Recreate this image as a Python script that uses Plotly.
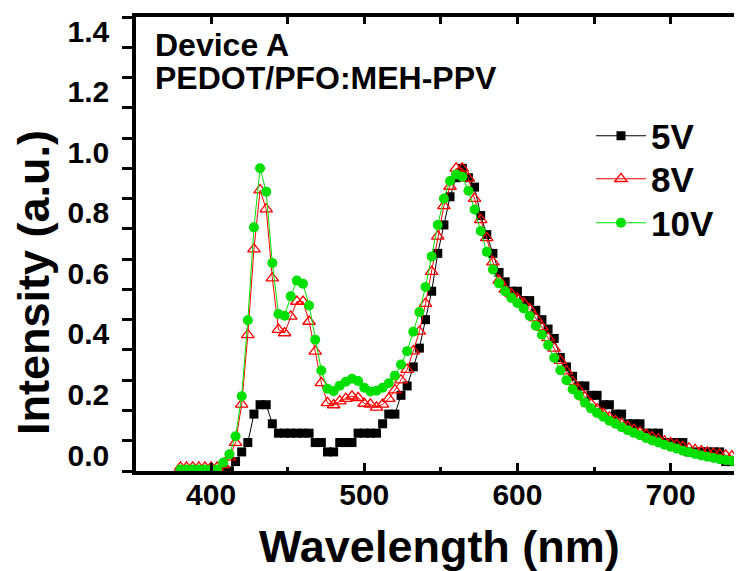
import plotly.graph_objects as go

wavelength = [380, 384, 388, 392, 396, 400, 404, 408, 412, 416,
              420, 424, 428, 432, 436, 440, 444, 448, 452, 456,
              460, 464, 468, 472, 476, 480, 484, 488, 492, 496,
              500, 504, 508, 512, 516, 520, 524, 528, 532, 536,
              540, 544, 548, 552, 556, 560, 564, 568, 572, 576,
              580, 584, 588, 592, 596, 600, 604, 608, 612, 616,
              620, 624, 628, 632, 636, 640, 644, 648, 652, 656,
              660, 664, 668, 672, 676, 680, 684, 688, 692, 696,
              700, 704, 708, 712, 716, 720, 724, 728, 732, 736,
              740, 744]

v5 = [0, 0, 0, 0, 0, 0, 0, 0, 0, 0.031,
      0.063, 0.094, 0.188, 0.219, 0.219, 0.156, 0.125, 0.125, 0.125, 0.125,
      0.125, 0.125, 0.094, 0.094, 0.063, 0.063, 0.094, 0.094, 0.094, 0.125,
      0.125, 0.125, 0.125, 0.156, 0.188, 0.188, 0.25, 0.281, 0.344, 0.406,
      0.5, 0.594, 0.719, 0.813, 0.906, 0.969, 1.0, 0.969, 0.938, 0.844,
      0.781, 0.719, 0.656, 0.625, 0.594, 0.594, 0.563, 0.563, 0.531, 0.5,
      0.469, 0.438, 0.375, 0.344, 0.313, 0.281, 0.281, 0.25, 0.25, 0.219,
      0.219, 0.188, 0.188, 0.156, 0.156, 0.156, 0.125, 0.125, 0.125, 0.094,
      0.094, 0.094, 0.094, 0.063, 0.063, 0.063, 0.063, 0.063, 0.063, 0.031,
      0.031, 0.031]

v8 = [0.012, 0.012, 0.012, 0.012, 0.012, 0.012, 0.012, 0.02, 0.045, 0.094,
      0.22, 0.45, 0.733, 0.928, 0.865, 0.637, 0.467, 0.456, 0.511, 0.56,
      0.56, 0.494, 0.395, 0.291, 0.225, 0.218, 0.231, 0.239, 0.247, 0.242,
      0.223, 0.22, 0.21, 0.22, 0.239, 0.267, 0.30, 0.335, 0.396, 0.461,
      0.553, 0.659, 0.775, 0.876, 0.94, 1.0, 1.0, 0.967, 0.90, 0.83,
      0.77, 0.69, 0.63, 0.60, 0.585, 0.57, 0.555, 0.535, 0.505, 0.475,
      0.44, 0.405, 0.365, 0.33, 0.295, 0.268, 0.244, 0.222, 0.205, 0.19,
      0.177, 0.166, 0.156, 0.146, 0.137, 0.128, 0.12, 0.112, 0.105, 0.098,
      0.092, 0.086, 0.08, 0.075, 0.07, 0.066, 0.062, 0.058, 0.055, 0.052,
      0.049, 0.047]

v10 = [0.005, 0.005, 0.005, 0.005, 0.005, 0.005, 0.005, 0.028, 0.055, 0.115,
       0.247, 0.498, 0.805, 1.0, 0.923, 0.687, 0.519, 0.513, 0.577, 0.629,
       0.619, 0.547, 0.434, 0.332, 0.272, 0.264, 0.282, 0.295, 0.305, 0.297,
       0.275, 0.263, 0.265, 0.275, 0.29, 0.315, 0.352, 0.396, 0.46, 0.525,
       0.608, 0.709, 0.813, 0.9, 0.958, 0.98, 0.972, 0.926, 0.864, 0.793,
       0.724, 0.666, 0.62, 0.594, 0.572, 0.555, 0.537, 0.512, 0.48, 0.45,
       0.416, 0.374, 0.333, 0.30, 0.27, 0.25, 0.226, 0.207, 0.192, 0.179,
       0.166, 0.156, 0.145, 0.135, 0.126, 0.118, 0.109, 0.101, 0.094, 0.087,
       0.08, 0.074, 0.067, 0.062, 0.056, 0.051, 0.047, 0.043, 0.039, 0.036,
       0.033, 0.031]

series_names = ["5V", "8V", "10V"]
y_tickvals = [0.0, 0.2, 0.4, 0.6, 0.8, 1.0, 1.2, 1.4]
x_tickvals = [400, 500, 600, 700]

FONT = "Liberation Sans, Arial, sans-serif"
# the page body adds an 8px offset, so the figure is 8px smaller than the window
W, H = 734, 563
L, R, T, B = 128, 0, 9, 100
PW, PH = W - L - R, H - T - B


def px2paper_x(px):
    return (px - L) / PW


def px2paper_y(py):
    return (H - B - py) / PH


fig = go.Figure()
fig.add_trace(go.Scatter(
    x=wavelength, y=v5, name=series_names[0], mode="lines+markers",
    line=dict(color="black", width=1),
    marker=dict(symbol="square", size=9, color="black"),
    legend="legend",
))
fig.add_trace(go.Scatter(
    x=wavelength, y=v8, name=series_names[1], mode="lines+markers",
    line=dict(color="#ff0000", width=1),
    marker=dict(symbol="triangle-up-open", size=11, color="#ff0000",
                line=dict(width=1.3, color="#ff0000")),
    legend="legend2",
))
fig.add_trace(go.Scatter(
    x=wavelength, y=v10, name=series_names[2], mode="lines+markers",
    line=dict(color="#00e000", width=1),
    marker=dict(symbol="circle", size=10, color="#00e000"),
    legend="legend3",
))
# helper trace so that the mirrored top/right axes get drawn
fig.add_trace(go.Scatter(
    x=[wavelength[0]], y=[v10[0]], xaxis="x2", yaxis="y2", mode="markers",
    marker=dict(opacity=0), showlegend=False, hoverinfo="skip",
))

tickfont = dict(family=FONT, size=30, color="black", weight="bold")


def legend_box(center_y):
    return dict(
        x=px2paper_x(583), y=px2paper_y(center_y), xanchor="left",
        yanchor="middle", bgcolor="rgba(0,0,0,0)", borderwidth=0,
        font=dict(family=FONT, size=35, color="black", weight="bold"),
        itemwidth=50,
    )


fig.update_layout(
    width=W, height=H,
    margin=dict(l=L, r=R, t=T, b=B, pad=0),
    paper_bgcolor="white", plot_bgcolor="white",
    showlegend=True,
    legend=legend_box(128),
    legend2=legend_box(171),
    legend3=legend_box(215),
    xaxis=dict(
        range=[351.0, 746.6], showgrid=False, zeroline=False,
        showline=True, linecolor="black", linewidth=3.5,
        ticks="inside", ticklen=8, tickwidth=3, tickcolor="black",
        tickvals=x_tickvals, tickfont=tickfont, ticklabelstandoff=-6,
        minor=dict(dtick=50, tick0=0, ticks="inside", ticklen=4,
                   tickwidth=3, tickcolor="black", showgrid=False),
    ),
    xaxis2=dict(
        overlaying="x", matches="x", side="top", anchor="y",
        showgrid=False, zeroline=False, showline=True, linecolor="black",
        linewidth=3.5, ticks="inside", ticklen=7, tickwidth=3,
        tickcolor="black", dtick=50, tick0=0, showticklabels=False,
    ),
    yaxis=dict(
        range=[0, 1.5], showgrid=False, zeroline=False,
        showline=True, linecolor="black", linewidth=3.5,
        ticks="outside", ticklen=10, tickwidth=3, tickcolor="black",
        tickvals=y_tickvals, tickformat=".1f", tickfont=tickfont,
        ticklabelshift=-16, ticklabelstandoff=7,
        minor=dict(dtick=0.1, tick0=0, ticks="outside", ticklen=10,
                   tickwidth=3, tickcolor="black", showgrid=False),
    ),
    yaxis2=dict(
        overlaying="y", matches="y", side="right", anchor="x",
        showgrid=False, zeroline=False, showline=False,
        ticks="inside", ticklen=6, tickwidth=3, tickcolor="black",
        dtick=0.1, tick0=0, showticklabels=False,
    ),
    annotations=[
        dict(text="Intensity (a.u.)", textangle=-90, showarrow=False,
             xref="paper", yref="paper", x=px2paper_x(25), y=px2paper_y(275),
             xanchor="center", yanchor="middle",
             font=dict(family=FONT, size=45, color="black", weight="bold")),
        dict(text="Wavelength (nm)", showarrow=False,
             xref="paper", yref="paper", x=px2paper_x(431), y=px2paper_y(538),
             xanchor="center", yanchor="middle",
             font=dict(family=FONT, size=45, color="black", weight="bold")),
        dict(text="Device A", showarrow=False,
             xref="paper", yref="paper", x=px2paper_x(145), y=px2paper_y(37),
             xanchor="left", yanchor="middle",
             font=dict(family=FONT, size=32, color="black", weight="bold")),
        dict(text="PEDOT/PFO:MEH-PPV", showarrow=False,
             xref="paper", yref="paper", x=px2paper_x(145), y=px2paper_y(69.5),
             xanchor="left", yanchor="middle",
             font=dict(family=FONT, size=32, color="black", weight="bold")),
    ],
)

fig.write_html("out.html")
